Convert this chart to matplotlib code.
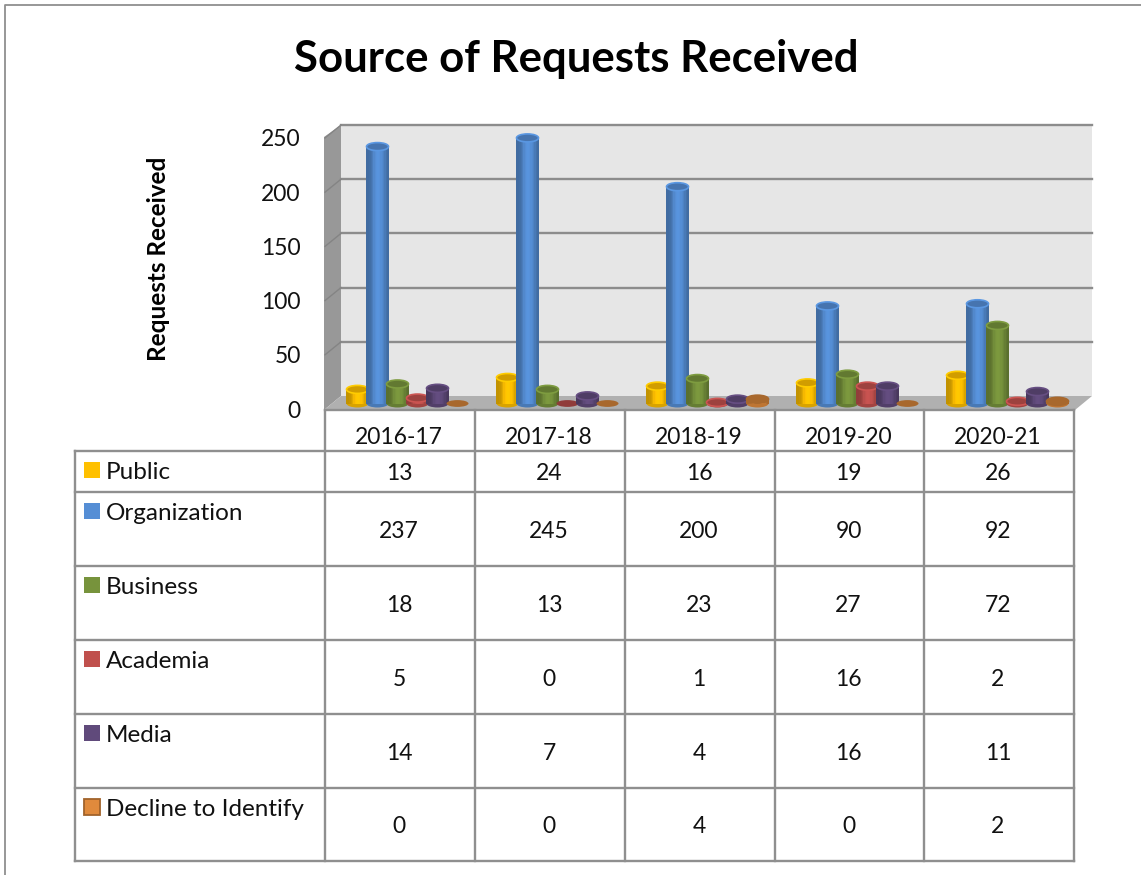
from matplotlib import pyplot as plt
from matplotlib.patches import Ellipse, Polygon, Rectangle
from matplotlib.transforms import ScaledTranslation
from matplotlib.colors import to_rgb
import numpy as np

W, H = 1141, 875
DPI = 100

years = ['2016-17', '2017-18', '2018-19', '2019-20', '2020-21']
series = ['Public', 'Organization', 'Business', 'Academia', 'Media', 'Decline to Identify']
public = [13, 24, 16, 19, 26]
organization = [237, 245, 200, 90, 92]
business = [18, 13, 23, 27, 72]
academia = [5, 0, 1, 16, 2]
media = [14, 7, 4, 16, 11]
decline = [0, 0, 4, 0, 2]
values = [public, organization, business, academia, media, decline]
colors = ['#FFC000', '#558ED5', '#77933C', '#C0504D', '#604A7B', '#E08A3C']
yticks = [0, 50, 100, 150, 200, 250]

plt.rcParams['font.family'] = ['Lato', 'DejaVu Sans']
LINE = '#8f8f8f'


def px(n):
    # pixels to inches, for the offsets of the 3d look
    return n / DPI


def shade(c, k):
    r = np.array(to_rgb(c)) * k
    return tuple(np.clip(r, 0, 1))


fig = plt.figure(figsize=(W / DPI, H / DPI), dpi=DPI, facecolor='white')

# whole figure in pixels: frame, walls, table
bg = fig.add_axes([0, 0, 1, 1], zorder=0)
bg.set_xlim(0, W)
bg.set_ylim(H, 0)
bg.axis('off')

bg.plot([5, 5, W], [H, 5, 5], color=LINE, lw=1.3)

# chart walls
bg.add_patch(Polygon([(341, 125), (1092, 125), (1092, 396), (341, 396)], fc='#e6e6e6', ec='none'))
bg.add_patch(Polygon([(324, 137), (341, 125), (341, 396), (324, 410)], fc='#989898', ec='none'))
bg.add_patch(Polygon([(324, 410), (341, 396), (1092, 396), (1075, 410)], fc='#b0b0b0', ec='none'))

# main axes, y is the front edge of the chart
ax = fig.add_axes([325 / W, 1 - 409 / H, 750 / W, 271 / H], zorder=2)
ax.set_xlim(-0.5, 4.5)
ax.set_ylim(0, 250)
ax.patch.set_alpha(0)
for s in ax.spines.values():
    s.set_visible(False)
ax.set_xticks([])
ax.set_yticks(yticks)
ax.tick_params(axis='y', length=0, pad=24, labelsize=16.5, labelcolor='#111111')
tick_shift = ScaledTranslation(px(9), px(-2), fig.dpi_scale_trans)
for lab in ax.get_yticklabels():
    lab.set_verticalalignment('center')
    lab.set_transform(lab.get_transform() + tick_shift)

# gridlines on back wall and side wall
back = ax.transData + ScaledTranslation(px(16), px(13), fig.dpi_scale_trans)
xleft = -0.5
xright = 4.5
for t in yticks[1:]:
    ax.plot([xleft, xright + 0.005], [t, t], color='#8c8c8c', lw=1.7, transform=back, clip_on=False, zorder=1)
    ax.plot([xleft - 16 / 150, xleft], [t - 13 / 1.084, t],
            color='#848484', lw=1.0, transform=back, clip_on=False, zorder=1)

# cylinders
base = ax.transData + ScaledTranslation(px(0.5), px(5.5), fig.dpi_scale_trans)
bar_w = 22 / 150
pitch = 20 / 150
ell_h = 8 / 1.084
strip_k = np.array([0.76, 0.76, 0.78, 0.82, 0.88, 0.96, 1.0, 1.03, 1.04, 1.03, 1.0, 0.97, 0.92, 0.86, 0.8, 0.76])
strip_w = bar_w / len(strip_k)

for i, (name, vals, c) in enumerate(zip(series, values, colors)):
    z = 3 + i
    flat = 0.75 if i == 5 else 0.82
    for j, v in enumerate(vals):
        xc = j + (i - 2.5) * pitch + 7 / 150
        if v == 0:
            ax.add_patch(Ellipse((xc, 0), bar_w, ell_h * 0.85, fc=shade(c, 0.75), ec='none',
                                 transform=base, clip_on=False, zorder=z))
            continue
        ax.add_patch(Ellipse((xc, 0), bar_w, ell_h, fc=shade(c, 0.85), ec='none',
                             transform=base, clip_on=False, zorder=z))
        for k, f in enumerate(strip_k):
            ax.bar(xc - bar_w / 2 + (k + 0.5) * strip_w, v, strip_w * 1.05, color=shade(c, f),
                   transform=base, clip_on=False, zorder=z, linewidth=0, antialiased=False)
        edge = shade(c, 0.75) if i == 5 else shade(c, 1.06)
        ax.add_patch(Ellipse((xc, v), bar_w, ell_h, fc=shade(c, flat), ec=edge, lw=1.2,
                             transform=base, clip_on=False, zorder=z))

# table
col_x = [75, 325, 475, 625, 775, 924, 1074]
row_y = [451, 492, 566, 640, 714, 788, 861]
head_top = 410
for x in col_x:
    top = row_y[0] if x == 75 else head_top
    bg.plot([x, x], [top, row_y[-1]], color=LINE, lw=1.7, solid_capstyle='projecting')
bg.plot([325, 1074], [head_top, head_top], color=LINE, lw=1.7)
for y in row_y:
    bg.plot([75, 1074], [y, y], color=LINE, lw=1.7, solid_capstyle='projecting')

for j, yr in enumerate(years):
    xm = (col_x[j + 1] + col_x[j + 2]) / 2
    bg.text(xm - 1, 437, yr, ha='center', va='center', fontsize=16.5, color='#111111')

for i, (name, vals, c) in enumerate(zip(series, values, colors)):
    y0, y1 = row_y[i], row_y[i + 1]
    ec = shade(c, 0.72) if i == 5 else 'none'
    bg.add_patch(Rectangle((84, y0 + 11), 16, 16, fc=c, ec=ec, lw=1.3))
    bg.text(106, y0 + 21.5, name, ha='left', va='center', fontsize=17.5, color='#111111')
    for j, v in enumerate(vals):
        xm = (col_x[j + 1] + col_x[j + 2]) / 2
        bg.text(xm - 1, (y0 + y1) / 2 + 2 if i > 0 else y0 + 22, str(v), ha='center', va='center',
                fontsize=16.5, color='#111111')

bg.text(576, 59, 'Source of Requests Received', ha='center', va='center',
        fontsize=31.5, fontweight='bold', color='black')
bg.text(158, 259, 'Requests Received', ha='center', va='center', rotation=90,
        fontsize=17.5, fontweight='bold', color='black')

fig.savefig('out.png', dpi=DPI)
